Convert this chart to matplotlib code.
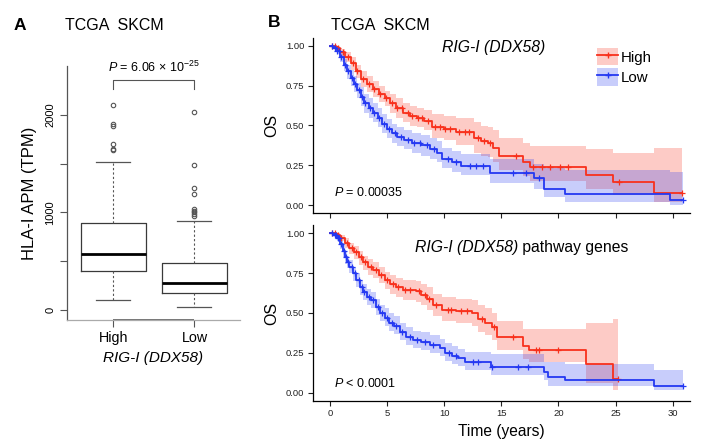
import numpy as np
import matplotlib
matplotlib.use("Agg")
import matplotlib.pyplot as plt
from matplotlib.patches import Patch
from matplotlib.lines import Line2D

plt.rcParams['font.family'] = ['Liberation Sans', 'DejaVu Sans']
plt.rcParams['mathtext.fontset'] = 'custom'
plt.rcParams['mathtext.rm'] = 'Liberation Sans'
plt.rcParams['mathtext.it'] = 'Liberation Sans:italic'
plt.rcParams['mathtext.sf'] = 'Liberation Sans'

# ---------------- data: panel A (boxplot) ----------------
groups = ["High", "Low"]
box_q1 = [400, 171]
box_med = [574, 274]
box_q3 = [895, 485]
box_whislo = [103, 34]
box_whishi = [1521, 916]
fliers_high = [1640, 1655, 1700, 1885, 1910, 2100]
fliers_low = [960, 985, 1000, 1020, 1040, 1190, 1250, 1490, 2030]
pval_A = r"$\mathit{P}$ = 6.06 × 10$^{-25}$"

# ---------------- data: panel B (Kaplan-Meier) ----------------
x_ticks = [0, 5, 10, 15, 20, 25, 30]
y_ticks = [0.0, 0.25, 0.5, 0.75, 1.0]
y_ticklabels = ["0.00", "0.25", "0.50", "0.75", "1.00"]

# top: RIG-I (DDX58)
t1_high = [0, 0.5, 0.9, 1.3, 1.8, 2.3, 2.7, 3.2, 3.8, 4.3, 4.8, 5.3, 5.8, 6.4, 7.0, 7.6, 8.2, 8.9,
           10.0, 11.0, 12.6, 13.2, 13.8, 14.3, 14.8, 16.9, 17.5, 22.4, 24.8, 28.4]
s1_high = [1.0, .99, .96, .93, .89, .84, .79, .76, .73, .70, .67, .64, .61, .58, .56, .55, .53, .49,
           .48, .46, .42, .40, .39, .36, .31, .27, .24, .19, .145, .075]
u1_high = [1.0, 1.0, .98, .96, .93, .88, .84, .81, .78, .75, .72, .70, .67, .64, .62, .61, .60, .57,
           .56, .55, .52, .50, .49, .47, .42, .39, .37, .35, .33, .36]
l1_high = [1.0, .98, .94, .90, .85, .80, .74, .71, .68, .65, .62, .58, .55, .52, .50, .49, .47, .42,
           .41, .38, .33, .31, .30, .27, .22, .18, .15, .10, .06, .02]
end1_high = 30.8
c1_high = [0.2, 0.45, 0.7, 1.1, 1.6, 2.0, 2.4, 2.9, 3.4, 3.9, 4.4, 4.9, 5.4, 5.9, 6.3, 6.8, 7.2, 7.7,
           8.1, 8.6, 9.2, 9.6, 10.1, 10.5, 11.3, 11.8, 12.2, 13.0, 13.5, 14.0, 16.3, 17.8, 18.6,
           19.3, 20.1, 20.8, 25.3, 30.8]

t1_low = [0, 0.3, 0.6, 0.9, 1.2, 1.5, 1.8, 2.1, 2.4, 2.7, 3.0, 3.4, 3.8, 4.2, 4.6, 5.0, 5.4, 5.9,
          6.5, 7.2, 8.0, 8.8, 9.4, 9.8, 10.7, 11.5, 14.0, 17.9, 18.7, 20.6, 29.8]
s1_low = [1.0, .99, .97, .93, .88, .84, .80, .76, .72, .68, .64, .61, .58, .55, .51, .48, .45, .43,
          .41, .39, .375, .355, .33, .29, .27, .245, .20, .17, .10, .07, .03]
u1_low = [1.0, 1.0, .99, .96, .92, .88, .85, .81, .77, .74, .70, .67, .64, .61, .57, .54, .51, .49,
          .47, .45, .44, .42, .40, .36, .34, .32, .29, .26, .23, .22, .21]
l1_low = [1.0, .98, .95, .90, .84, .79, .75, .71, .67, .62, .58, .55, .52, .49, .45, .42, .39, .37,
          .35, .33, .31, .29, .27, .23, .21, .19, .14, .10, .05, .02, .0]
end1_low = 30.9
c1_low = [0.2, 0.4, 0.65, 0.8, 1.0, 1.3, 1.6, 1.9, 2.2, 2.5, 2.8, 3.1, 3.5, 3.9, 4.3, 4.7, 5.2, 5.7,
          6.2, 6.8, 7.4, 7.9, 8.5, 9.1, 10.3, 11.0, 12.3, 12.8, 13.4, 16.0, 17.2, 18.3, 30.9]

# bottom: RIG-I (DDX58) pathway genes
t2_high = [0, .5, .9, 1.3, 1.7, 2.1, 2.5, 2.9, 3.3, 3.8, 4.3, 4.8, 5.3, 5.8, 6.4, 7.5, 8.0, 8.5, 9.0,
           9.8, 11.0, 12.4, 13.0, 13.6, 14.2, 14.6, 16.9, 17.4, 22.4, 24.8]
s2_high = [1, .99, .97, .94, .91, .88, .85, .82, .79, .77, .74, .71, .68, .66, .645, .635, .615, .59,
           .55, .52, .51, .50, .46, .44, .41, .35, .29, .27, .18, .085]
u2_high = [1, 1, .99, .97, .94, .92, .89, .86, .84, .82, .79, .76, .74, .72, .71, .70, .68, .66,
           .62, .60, .59, .58, .55, .53, .50, .45, .40, .40, .44, .46]
l2_high = [1, .98, .95, .91, .87, .84, .80, .77, .74, .72, .69, .65, .62, .60, .58, .57, .55, .52,
           .48, .45, .44, .42, .38, .36, .33, .27, .21, .19, .06, .02]
end2_high = 25.2
c2_high = [0.2, 0.45, 0.7, 1.0, 1.5, 1.9, 2.3, 2.7, 3.1, 3.6, 4.0, 4.5, 5.0, 5.5, 6.0, 6.6, 7.0,
           7.8, 8.3, 8.7, 9.3, 10.3, 10.6, 11.5, 12.0, 13.3, 14.4, 16.0, 18.0, 18.3, 20.0, 25.2]

t2_low = [0, .3, .6, .9, 1.1, 1.3, 1.5, 1.7, 2.0, 2.3, 2.6, 2.9, 3.2, 3.6, 4.0, 4.4, 4.8, 5.2, 5.6,
          6.1, 6.7, 7.3, 8.0, 8.8, 9.6, 10.1, 10.7, 11.2, 11.8, 14.1, 18.7, 19.1, 20.6, 28.4]
s2_low = [1, .99, .97, .93, .89, .85, .82, .79, .75, .71, .66, .63, .60, .58, .54, .50, .47, .44, .42,
          .38, .35, .33, .32, .30, .28, .25, .23, .215, .195, .16, .13, .10, .08, .04]
u2_low = [1, 1, .99, .96, .93, .89, .86, .83, .79, .75, .71, .68, .65, .63, .59, .55, .53, .50, .48,
          .44, .41, .39, .38, .36, .34, .31, .29, .275, .255, .24, .195, .195, .18, .14]
l2_low = [1, .98, .95, .90, .85, .81, .78, .75, .70, .66, .61, .58, .55, .53, .49, .45, .42, .39, .37,
          .33, .30, .28, .27, .25, .23, .20, .18, .165, .145, .11, .08, .04, .04, .02]
end2_low = 30.9
c2_low = [0.2, 0.4, 0.55, 0.7, 0.8, 1.0, 1.2, 1.4, 1.6, 1.9, 2.2, 2.5, 2.8, 3.0, 3.4, 3.8, 4.2,
          4.6, 5.0, 5.4, 5.8, 6.3, 7.0, 7.6, 8.3, 9.0, 10.4, 11.0, 12.5, 13.0, 14.2, 16.5, 17.3, 30.9]

RED = "#F8301C"
BLUE = "#2438F2"

W, H = 707, 446
fig = plt.figure(figsize=(W / 100, H / 100), dpi=100)


def fx(px):
    return px / W


def fy(py):
    return 1 - py / H


# ---------------- Panel A ----------------
axA = fig.add_axes([fx(67), fy(320), fx(240) - fx(67), fy(66) - fy(320)])
stats = []
for i, g in enumerate(groups):
    stats.append(dict(label=g, med=box_med[i], q1=box_q1[i], q3=box_q3[i],
                      whislo=box_whislo[i], whishi=box_whishi[i],
                      fliers=[fliers_high, fliers_low][i]))
axA.bxp(stats, positions=[1, 2], widths=0.8, showfliers=True,
        boxprops=dict(color="#3a3a3a", lw=0.9),
        medianprops=dict(color="black", lw=2.0),
        whiskerprops=dict(color="#555555", lw=0.8, linestyle=(0, (2, 2))),
        capprops=dict(color="#555555", lw=0.9),
        capwidths=0.42,
        flierprops=dict(marker="o", markerfacecolor="none", markeredgecolor="#555555",
                        markersize=3.2, markeredgewidth=0.8))
axA.set_xlim(0.426, 2.562)
axA.set_ylim(-102.6, 2502.6)
for s in ["top", "right"]:
    axA.spines[s].set_visible(False)
axA.spines["left"].set_color("#555555")
axA.spines["left"].set_linewidth(0.9)
axA.spines["bottom"].set_color("#aaaaaa")
axA.spines["bottom"].set_linewidth(0.9)
axA.plot([1, 2], [0, 0], transform=axA.get_xaxis_transform(), color="#666666", lw=1.3,
         clip_on=False, solid_capstyle="butt")
axA.set_yticks([0, 500, 1000, 1500, 2000])
axA.set_yticklabels(["0", "", "1000", "", "2000"], rotation=90, va="center", fontsize=8)
axA.set_xticks([1, 2])
axA.set_xticklabels(groups, fontsize=10.3)
axA.tick_params(axis="y", direction="out", length=5, width=0.8, color="#555555", pad=3.5)
axA.tick_params(axis="x", direction="out", length=5, width=0.8, color="#555555", pad=3)
axA.set_ylabel("HLA-I APM (TPM)", fontsize=12, labelpad=6)
axA.set_xlabel("RIG-I (DDX58)", fontsize=11, style="italic", labelpad=4)
axA.plot([1, 1, 2, 2], [2267, 2359, 2359, 2267], color="#555555", lw=0.8)
axA.text(1.5, 2410, pval_A, ha="center", va="bottom", fontsize=9)

fig.text(fx(14), fy(29.5), "A", fontsize=12.5, fontweight="bold", ha="left", va="baseline")
fig.text(fx(65), fy(29.5), "TCGA  SKCM", fontsize=11.5, ha="left", va="baseline")
fig.text(fx(268), fy(27), "B", fontsize=12.5, fontweight="bold", ha="left", va="baseline")
fig.text(fx(331), fy(29.5), "TCGA  SKCM", fontsize=11.5, ha="left", va="baseline")


# ---------------- Panel B ----------------
def km(ax, t, s, u, l, end, cens, color):
    tt = list(t) + [end]
    ss = list(s) + [s[-1]]
    uu = list(u) + [u[-1]]
    ll = list(l) + [l[-1]]
    ax.fill_between(tt, ll, uu, step="post", color=color, alpha=0.25, lw=0)
    ax.step(tt, ss, where="post", color=color, lw=1.3)
    idx = np.searchsorted(np.array(t), np.array(cens), side="right") - 1
    ax.plot(cens, np.array(s)[idx], ls="none", marker="+", color=color, ms=4.5, mew=0.9)


def style(ax, show_xlabels):
    ax.set_xlim(-1.51, 31.52)
    ax.set_ylim(-0.05, 1.05)
    for sp in ["top", "right"]:
        ax.spines[sp].set_visible(False)
    for sp in ["left", "bottom"]:
        ax.spines[sp].set_linewidth(0.9)
        ax.spines[sp].set_color("black")
    ax.set_xticks(x_ticks)
    ax.set_yticks(y_ticks)
    ax.set_yticklabels(y_ticklabels)
    if not show_xlabels:
        ax.set_xticklabels([])
    ax.tick_params(direction="out", length=3.5, width=0.8, labelsize=6.8, colors="#222222", pad=2.5)
    ax.set_ylabel("OS", fontsize=11.5, labelpad=5)


axB1 = fig.add_axes([fx(312.7), fy(213), fx(690) - fx(312.7), fy(38) - fy(213)])
km(axB1, t1_high, s1_high, u1_high, l1_high, end1_high, c1_high, RED)
km(axB1, t1_low, s1_low, u1_low, l1_low, end1_low, c1_low, BLUE)
style(axB1, False)
axB1.text(0.48, 0.92, "RIG-I (DDX58)", transform=axB1.transAxes, fontsize=11.3, style="italic",
          ha="center", va="baseline")
axB1.text(0.057, 0.095, r"$\mathit{P}$ = 0.00035", transform=axB1.transAxes, fontsize=9,
          ha="left", va="baseline")

handles = [(Patch(facecolor=RED, alpha=0.25, lw=0), Line2D([], [], color=RED, lw=1.3, marker="+", ms=5)),
           (Patch(facecolor=BLUE, alpha=0.25, lw=0), Line2D([], [], color=BLUE, lw=1.3, marker="+", ms=5))]
axB1.legend(handles, ["High", "Low"], loc="upper left", bbox_to_anchor=(fx(597), fy(48)),
            bbox_transform=fig.transFigure, frameon=False, fontsize=10.8, borderpad=0,
            borderaxespad=0, handlelength=1.4, handleheight=1.4, handletextpad=0.2,
            labelspacing=0.2)

axB2 = fig.add_axes([fx(312.7), fy(400.7), fx(690) - fx(312.7), fy(225.3) - fy(400.7)])
km(axB2, t2_high, s2_high, u2_high, l2_high, end2_high, c2_high, RED)
km(axB2, t2_low, s2_low, u2_low, l2_low, end2_low, c2_low, BLUE)
style(axB2, True)
axB2.set_xlabel("Time (years)", fontsize=11.2, labelpad=4)
t_it = fig.text(fx(415), fy(252), "RIG-I (DDX58)", fontsize=11.3, style="italic",
                ha="left", va="baseline")
axB2.annotate(" pathway genes", xy=(1, 0), xycoords=t_it, fontsize=11.3,
              ha="left", va="bottom")
axB2.text(0.057, 0.08, r"$\mathit{P}$ < 0.0001", transform=axB2.transAxes, fontsize=9,
          ha="left", va="baseline")

fig.savefig("out.png", dpi=100)
